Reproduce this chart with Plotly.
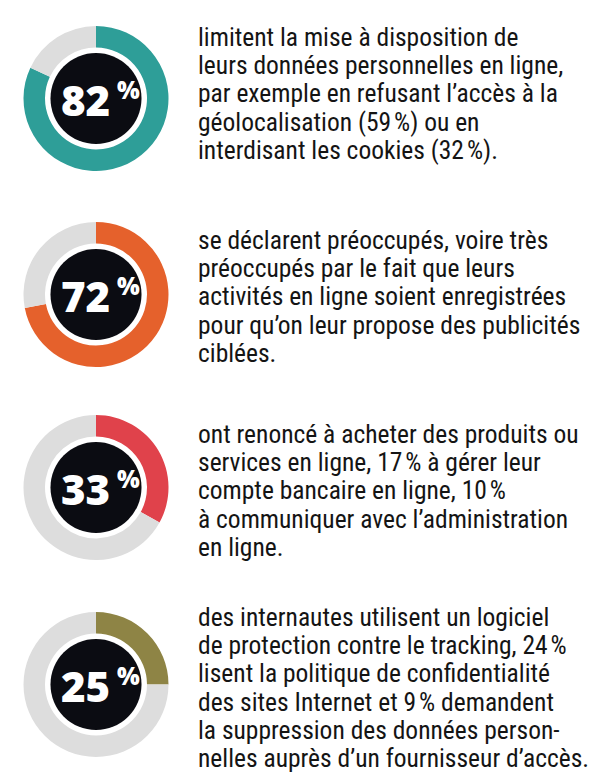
import plotly.graph_objects as go

W, H = 600, 781

values = [82, 72, 33, 25]
labels_pct = ["82", "72", "33", "25"]
colors = ["#2e9e98", "#e5612c", "#e0424b", "#8e8445"]
rest_color = "#dddddd"

NS = "\u202f"  # narrow no-break space before %
texts = [
    ["limitent la mise à disposition de",
     "leurs données personnelles en ligne,",
     "par exemple en refusant l’accès à la",
     f"géolocalisation (59{NS}%) ou en",
     f"interdisant les cookies (32{NS}%)."],
    ["se déclarent préoccupés, voire très",
     "préoccupés par le fait que leurs",
     "activités en ligne soient enregistrées",
     "pour qu’on leur propose des publicités",
     "ciblées."],
    ["ont renoncé à acheter des produits ou",
     f"services en ligne, 17{NS}% à gérer leur",
     f"compte bancaire en ligne, 10{NS}%",
     "à communiquer avec l’administration",
     "en ligne."],
    ["des internautes utilisent un logiciel",
     f"de protection contre le tracking, 24{NS}%",
     "lisent la politique de confidentialité",
     f"des sites Internet et 9{NS}% demandent",
     "la suppression des données person-",
     "nelles auprès d’un fournisseur d’accès."],
]

# layout (pixels)
centers_y = [98.5, 294.5, 487.5, 684.5]
cx = 96
r_out = 72.5
r_in = 51
r_black = 45.5
first_baselines = [45, 248, 442, 625]
line_gap = 28.3
text_x = 196
body_fs = 25.5
body_font = "Liberation Sans Narrow, Roboto Condensed, Arial Narrow, sans-serif"

def px_x(x):
    return x / W

def px_y(y):
    return 1 - y / H

def circle(cy, r, color):
    return dict(
        type="circle", xref="paper", yref="paper",
        x0=px_x(cx - r), x1=px_x(cx + r),
        y0=px_y(cy + r), y1=px_y(cy - r),
        fillcolor=color, line=dict(width=0), layer="above",
    )

fig = go.Figure()
shapes = []
annotations = []

for i, v in enumerate(values):
    cy = centers_y[i]
    fig.add_trace(go.Pie(
        values=[v, 100 - v],
        marker=dict(colors=[colors[i], rest_color], line=dict(width=0)),
        hole=r_in / r_out,
        sort=False,
        direction="clockwise",
        rotation=0,
        textinfo="none",
        hoverinfo="skip",
        showlegend=False,
        domain=dict(x=[px_x(cx - r_out), px_x(cx + r_out)],
                    y=[px_y(cy + r_out), px_y(cy - r_out)]),
    ))
    shapes.append(circle(cy, r_black, "#0b0c12"))
    annotations.append(dict(
        text=labels_pct[i], x=px_x(cx + 16), y=px_y(cy + 1),
        xref="paper", yref="paper", xanchor="right", yanchor="middle",
        showarrow=False,
        font=dict(family="Open Sans", size=42, color="white", weight=800),
    ))
    annotations.append(dict(
        text="%", x=px_x(cx + 19), y=px_y(cy - 9),
        xref="paper", yref="paper", xanchor="left", yanchor="middle",
        showarrow=False,
        font=dict(family="Open Sans", size=24, color="white", weight=800),
    ))
    for j, line in enumerate(texts[i]):
        base = first_baselines[i] + j * line_gap
        annotations.append(dict(
            text=line, x=px_x(text_x), y=px_y(base - 0.32 * body_fs),
            xref="paper", yref="paper", xanchor="left", yanchor="middle",
            showarrow=False,
            font=dict(family=body_font, size=body_fs, color="#141414"),
        ))

fig.update_layout(
    width=W, height=H,
    margin=dict(l=0, r=0, t=0, b=0),
    paper_bgcolor="white", plot_bgcolor="white",
    shapes=shapes, annotations=annotations,
)

fig.write_html(
    "out.html",
    config={"displayModeBar": False},
    post_script="document.body.style.margin='0';document.body.style.padding='0';",
)
